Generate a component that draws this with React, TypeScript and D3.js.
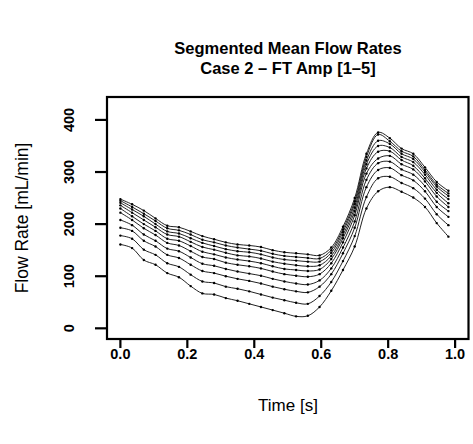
import React from "react";
import * as d3 from "d3";

const times = [0, 0.035, 0.07, 0.105, 0.14, 0.175, 0.21, 0.245, 0.28, 0.315, 0.35, 0.385, 0.42, 0.455, 0.49, 0.525, 0.56, 0.595, 0.63, 0.665, 0.7, 0.735, 0.77, 0.805, 0.84, 0.875, 0.91, 0.945, 0.98];

const seg10 = [248,238,226,211,197,194,186,177,171,165,161,159,156,150,146,144,142,140,155,195,250,335,376,365,345,335,309,281,264];
const seg9 = [245,233,220,206,192,188,180,170,165,159,155,152,149,143,139,137,135,134,150,190,244,329,372,359,340,330,304,276,259];
const seg8 = [241,228,215,200,186,182,173,164,158,152,148,146,142,136,132,130,128,128,145,185,239,322,360,354,335,325,300,272,254];
const seg7 = [236,222,208,194,180,176,166,156,151,145,140,138,134,128,124,121,119,121,139,179,232,315,350,347,329,319,295,266,248];
const seg6 = [230,215,200,187,172,168,158,147,142,136,132,129,125,119,114,112,110,113,133,173,225,307,339,340,323,312,288,260,240];
const seg5 = [222,208,192,179,164,159,148,137,133,126,122,119,115,109,104,101,99,104,125,165,217,297,326,331,315,305,282,253,233];
const seg4 = [208,198,180,168,153,148,136,124,120,114,109,105,101,95,90,86,84,92,115,155,205,285,317,320,305,295,273,243,225];
const seg3 = [193,187,168,157,141,135,122,110,106,100,95,91,86,80,75,71,69,80,104,144,193,271,304,308,294,284,263,233,214];
const seg2 = [178,172,151,141,125,118,103,90,87,80,76,71,65,59,54,49,47,62,89,129,177,252,288,291,279,269,249,219,198];
const seg1 = [161,154,131,122,106,98,81,67,65,58,53,47,41,35,29,23,24,41,72,112,157,230,263,271,262,251,233,202,176];

const allSeries = [seg1, seg2, seg3, seg4, seg5, seg6, seg7, seg8, seg9, seg10];

const xTicks = [0, 0.2, 0.4, 0.6, 0.8, 1.0];
const yTicks = [0, 100, 200, 300, 400];

const titleLines = ["Segmented Mean Flow Rates", "Case 2 \u2013 FT Amp [1\u20135]"];
const xLabel = "Time [s]";
const yLabel = "Flow Rate [mL/min]";

const W = 473;
const H = 444;
const L = 107, R = 468.5, T = 97, B = 339;
const FONT = "'Liberation Sans', Arial, Helvetica, sans-serif";

export default function App() {
  const x = d3.scaleLinear().domain([-0.04, 1.04]).range([L, R]);
  const y = d3.scaleLinear().domain([-20.5, 444]).range([B, T]);
  const line = d3
    .line<number>()
    .x((_, i) => x(times[i]))
    .y((d) => y(d))
    .curve(d3.curveCatmullRom.alpha(0.5));
  return (
    <svg
      width={W}
      height={H}
      style={{ position: "absolute", left: 0, top: 0, background: "#fff" }}
      fontFamily={FONT}
    >
      <rect x={0} y={0} width={W} height={H} fill="#fff" />
      <g fontWeight="bold" fontSize={16.5} textAnchor="middle" fill="#000">
        {titleLines.map((t, i) => (
          <text key={i} x={288} y={54 + i * 20}>
            {t}
          </text>
        ))}
      </g>
      <g>
        {allSeries.map((s, k) => (
          <g key={k}>
            <path d={line(s) || ""} fill="none" stroke="#222" strokeWidth={1} />
            {s.map((v, i) => (
              <circle key={i} cx={x(times[i])} cy={y(v)} r={1.2} fill="#000" />
            ))}
          </g>
        ))}
      </g>
      <rect x={L} y={T} width={R - L} height={B - T} fill="none" stroke="#000" strokeWidth={2.2} />
      <g stroke="#000" strokeWidth={2.2}>
        {xTicks.map((t) => (
          <line key={t} x1={x(t)} x2={x(t)} y1={B} y2={B + 9} />
        ))}
        {yTicks.map((t) => (
          <line key={t} x1={L} x2={L - 12} y1={y(t)} y2={y(t)} />
        ))}
      </g>
      <g fontWeight="bold" fontSize={14.5} textAnchor="middle" fill="#000">
        {xTicks.map((t) => (
          <text key={t} x={x(t)} y={359}>
            {t.toFixed(1)}
          </text>
        ))}
        {yTicks.map((t) => (
          <text key={t} transform={`translate(${74},${y(t)}) rotate(-90)`}>
            {t}
          </text>
        ))}
      </g>
      <text x={288} y={411} fontSize={17} textAnchor="middle" fill="#000">
        {xLabel}
      </text>
      <text
        transform={`translate(${28},${(T + B) / 2}) rotate(-90)`}
        fontSize={17.5}
        textAnchor="middle"
        fill="#000"
      >
        {yLabel}
      </text>
    </svg>
  );
}
